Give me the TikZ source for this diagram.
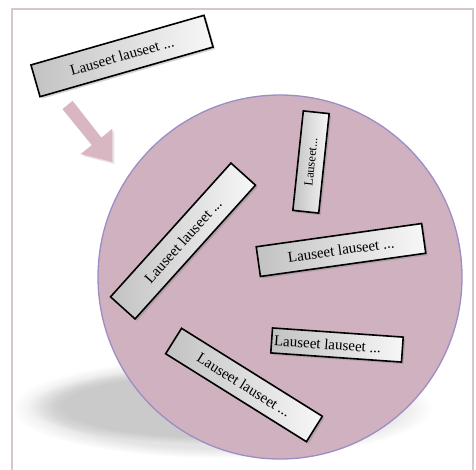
\documentclass[tikz,border=0pt]{standalone}
\usepackage{fontspec}
\setmainfont{Liberation Serif}
\usetikzlibrary{shadows,fadings}
\definecolor{framec}{RGB}{216,198,207}
\definecolor{discfill}{RGB}{207,177,191}
\definecolor{discedge}{RGB}{158,140,196}
\definecolor{arrowc}{RGB}{216,182,194}
\tikzset{
  slip/.style={draw=black, line width=1.6pt, inner sep=0pt,
    left color=black!24, right color=black!3,
    drop shadow={shadow xshift=2pt, shadow yshift=-2pt, opacity=.35},
    font=\fontsize{15}{17}\selectfont},
  softshadow/.style={fill=black, opacity=.11, path fading=circle with fuzzy edge 20 percent},
}
\begin{document}
\begin{tikzpicture}[x=1pt,y=-1pt]
\useasboundingbox (0,0) rectangle (476,469);
\fill[white] (0,0) rectangle (476,469);
\draw[framec, line width=2.5pt] (12,9) rectangle (473,472);
% soft shadow under the disc
\path[softshadow] (222,408) ellipse (210 and 50);
\path[softshadow] (214,406) ellipse (186 and 38);
% disc
\node[circle, draw=discedge, fill=discfill, line width=1.3pt,
      minimum size=364pt, inner sep=0pt] (disc) at (280,277) {};
% block arrow
\fill[arrowc, drop shadow={shadow xshift=2pt, shadow yshift=-2pt, opacity=.2}]
  (72.5,100.9) -- (101.2,137.7) -- (112.3,128.8) -- (112.5,162)
  -- (80.7,154) -- (91.8,145.1) -- (62.5,109.1) -- cycle;
% slips
\node[slip, minimum width=180pt, minimum height=33pt, rotate=16] (s1) at (122,56) {Lauseet lauseet ...};
\node[slip, minimum width=100pt, minimum height=26pt, rotate=84,
      font=\fontsize{12.5}{14}\selectfont] (s2) at (311,162) {Lauseet...};
\node[slip, minimum width=180pt, minimum height=33pt, rotate=48] (s3) at (183,241) {Lauseet lauseet ...};
\node[slip, minimum width=167pt, minimum height=30pt, rotate=8] (s4) at (341,250) {Lauseet lauseet ...};
\node[slip, minimum width=131pt, minimum height=25pt, rotate=-4] (s5) at (337,345) {\makebox[126pt][l]{Lauseet lauseet ...}};
\node[slip, minimum width=166pt, minimum height=30pt, rotate=-32] (s6) at (244,385) {Lauseet lauseet ...};
\end{tikzpicture}
\end{document}
